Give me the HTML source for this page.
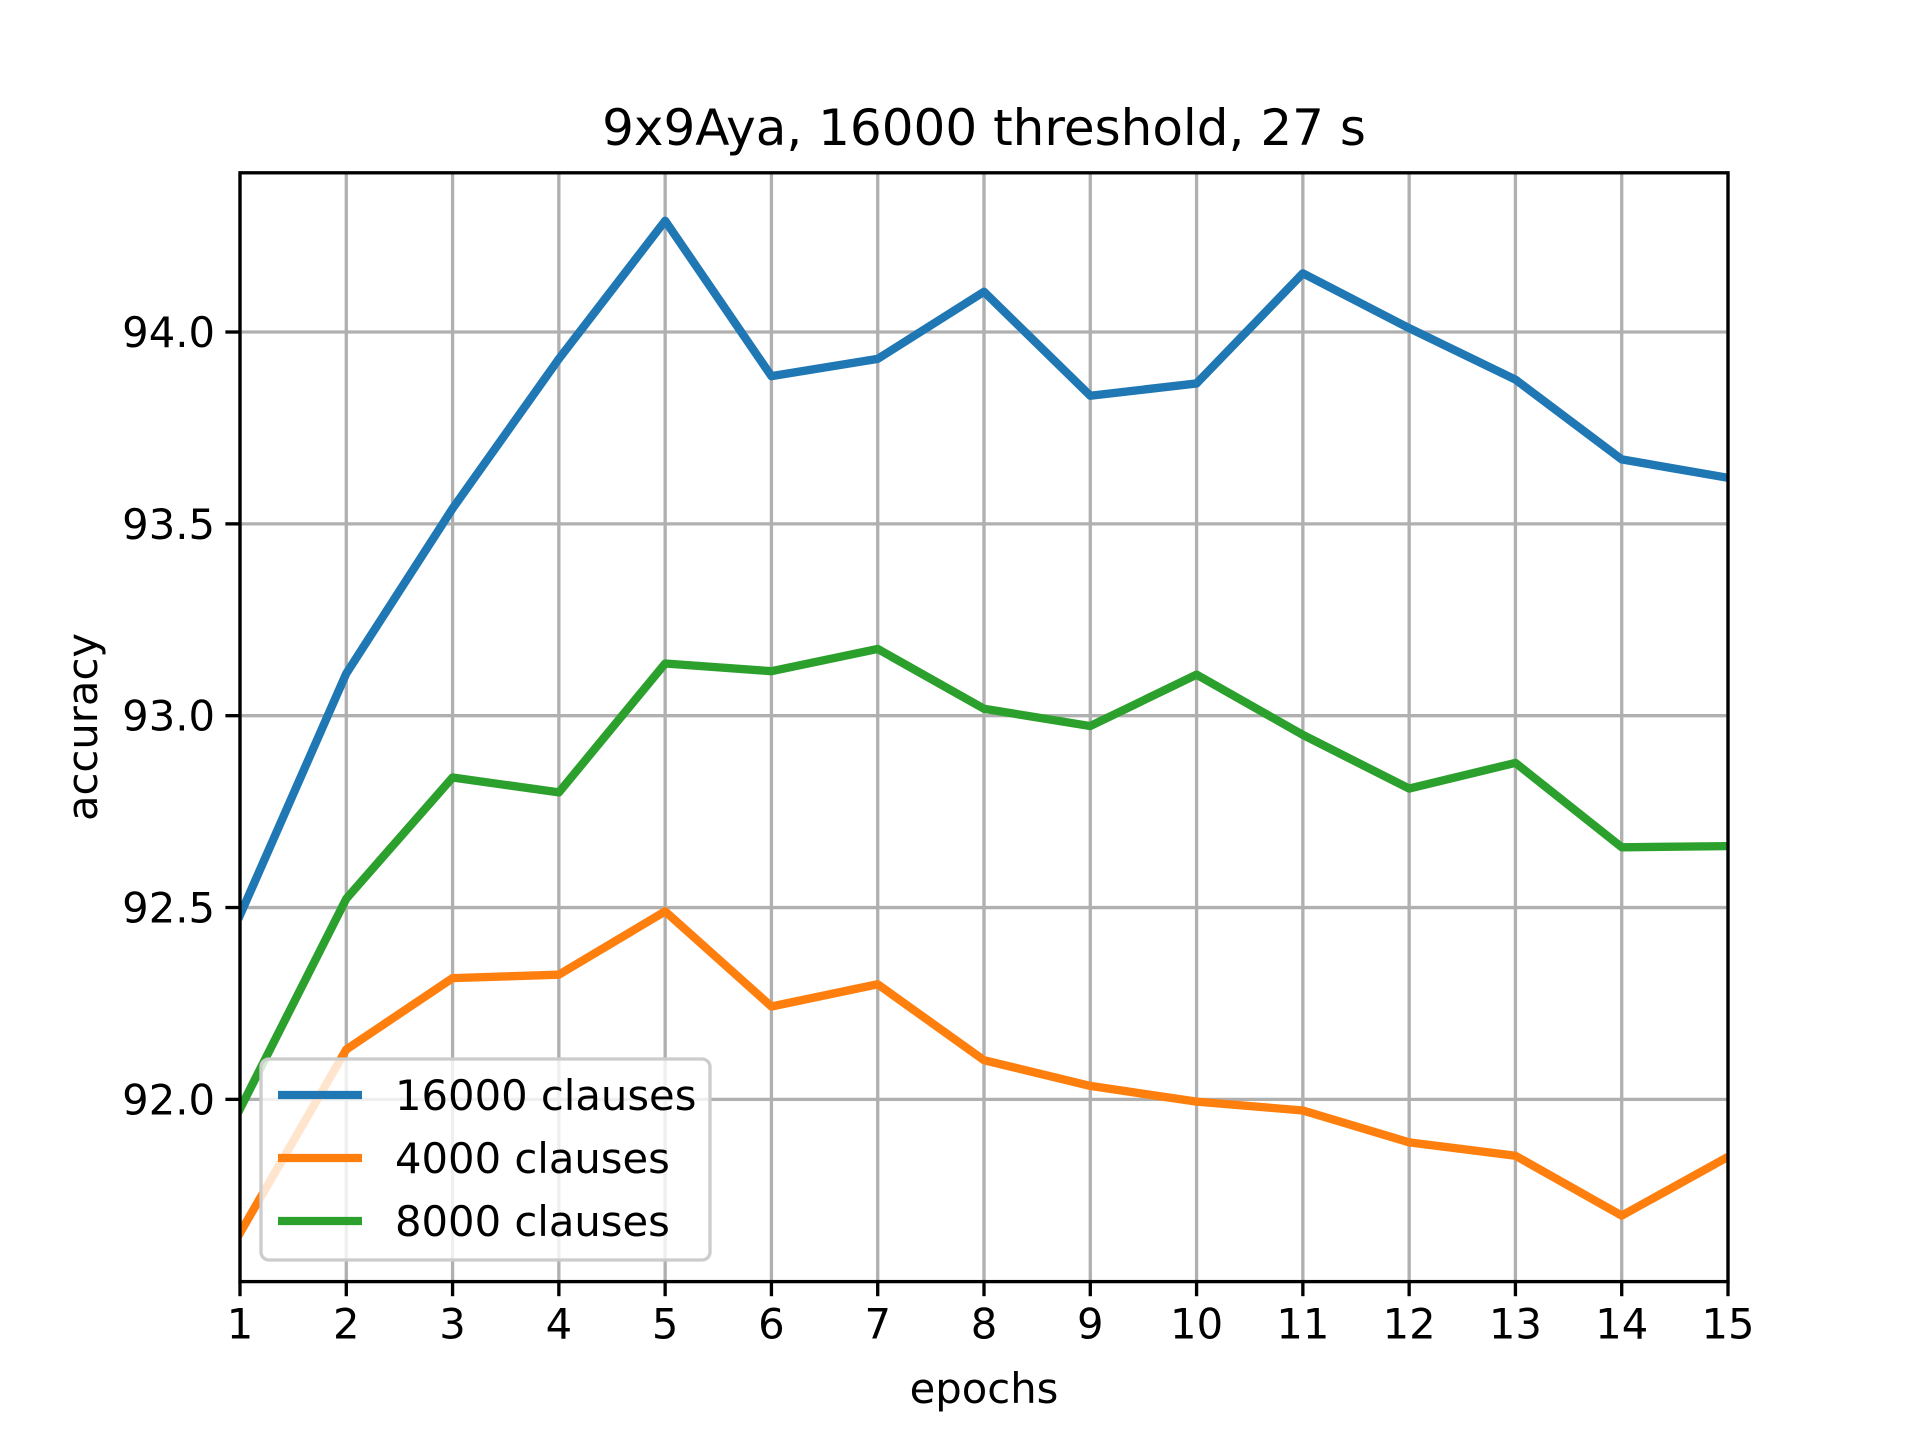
<!DOCTYPE html>
<html><head><meta charset="utf-8"><style>
html,body{margin:0;padding:0;background:#fff;}
svg{display:block;font-family:"DejaVu Sans","Liberation Sans",sans-serif;}
</style></head><body>
<svg id="chart" width="1920" height="1440" viewBox="0 0 1920 1440" xmlns="http://www.w3.org/2000/svg">
<rect width="1920" height="1440" fill="#fff"/>
<defs><clipPath id="clip"><rect x="240" y="172.8" width="1488" height="1108.8"/></clipPath></defs>
<g id="grid"></g>
<g id="series" clip-path="url(#clip)"></g>
<rect x="240" y="172.8" width="1488" height="1108.8" fill="none" stroke="#000" stroke-width="3.33"/>
<g id="ticks"></g>
<text x="984" y="145" font-size="50" text-anchor="middle">9x9Aya, 16000 threshold, 27 s</text>
<text x="984" y="1403" font-size="41.7" text-anchor="middle">epochs</text>
<text x="0" y="0" font-size="41.7" text-anchor="middle" transform="translate(97,727) rotate(-90)">accuracy</text>
<g id="legend"></g>
</svg>
<script>
const epochs=[1,2,3,4,5,6,7,8,9,10,11,12,13,14,15];
const s16000=[92.48,93.11,93.54,93.93,94.29,93.885,93.93,94.105,93.834,93.866,94.153,94.01,93.876,93.668,93.62];
const s4000=[91.652,92.13,92.316,92.325,92.49,92.242,92.3,92.102,92.035,91.994,91.971,91.888,91.853,91.697,91.85];
const s8000=[91.975,92.523,92.839,92.8,93.136,93.116,93.174,93.018,92.973,93.107,92.95,92.81,92.877,92.657,92.66];
const yTicks=[92.0,92.5,93.0,93.5,94.0];
const yTickLabels=["92.0","92.5","93.0","93.5","94.0"];
const seriesNames=["16000 clauses","4000 clauses","8000 clauses"];
const NS="http://www.w3.org/2000/svg";
const L=240,R=1728,T=172.8,B=1281.6,YMIN=91.525,YMAX=94.415;
const xs=v=>L+(v-1)/(14)*(R-L);
const ys=v=>B-(v-YMIN)/(YMAX-YMIN)*(B-T);
function mk(tag,attrs,parent){const e=document.createElementNS(NS,tag);for(const k in attrs)e.setAttribute(k,attrs[k]);parent.appendChild(e);return e;}
const grid=document.getElementById('grid'),ticks=document.getElementById('ticks');
epochs.forEach(e=>{
  const x=xs(e);
  const g=mk('line',{x1:x,x2:x,y1:T,y2:B,stroke:'#b0b0b0','stroke-width':3.33},grid);
  
  
  const t=mk('line',{x1:x,x2:x,y1:B,y2:B+14.6,stroke:'#000','stroke-width':3.33},ticks);
  
  
  const l=mk('text',{x:x,y:B+57,'font-size':41.7,'text-anchor':'middle'},ticks);
  l.textContent=String(e);
  
  
});
yTicks.forEach((v,i)=>{
  const y=ys(v);
  const g=mk('line',{x1:L,x2:R,y1:y,y2:y,stroke:'#b0b0b0','stroke-width':3.33},grid);
  
  
  const t=mk('line',{x1:L-14.6,x2:L,y1:y,y2:y,stroke:'#000','stroke-width':3.33},ticks);
  
  
  const l=mk('text',{x:L-25,y:y+15,'font-size':41.7,'text-anchor':'end'},ticks);
  l.textContent=yTickLabels[i];
  
  
});
const colors=['#1f77b4','#ff7f0e','#2ca02c'];
const sg=document.getElementById('series');
[s16000,s4000,s8000].forEach((s,i)=>{
  const p=mk('polyline',{points:s.map((v,j)=>xs(epochs[j])+','+ys(v)).join(' '),fill:'none',stroke:colors[i],'stroke-width':8.33,'stroke-linejoin':'round','stroke-linecap':'square'},sg);
  
  
});
const lg=document.getElementById('legend');
const box=mk('rect',{x:261,y:1059,width:449,height:201,rx:8,fill:'#fff','fill-opacity':0.8,stroke:'#cccccc','stroke-width':3.33},lg);


const ly=[1095,1158,1221];
seriesNames.forEach((n,i)=>{
  const ln=mk('line',{x1:278,x2:362,y1:ly[i],y2:ly[i],stroke:colors[i],'stroke-width':8.33},lg);
  
  
  const t=mk('text',{x:395,y:ly[i]+15,'font-size':41.7},lg);
  t.textContent=n;
  
  
});
</script>
</body></html>
